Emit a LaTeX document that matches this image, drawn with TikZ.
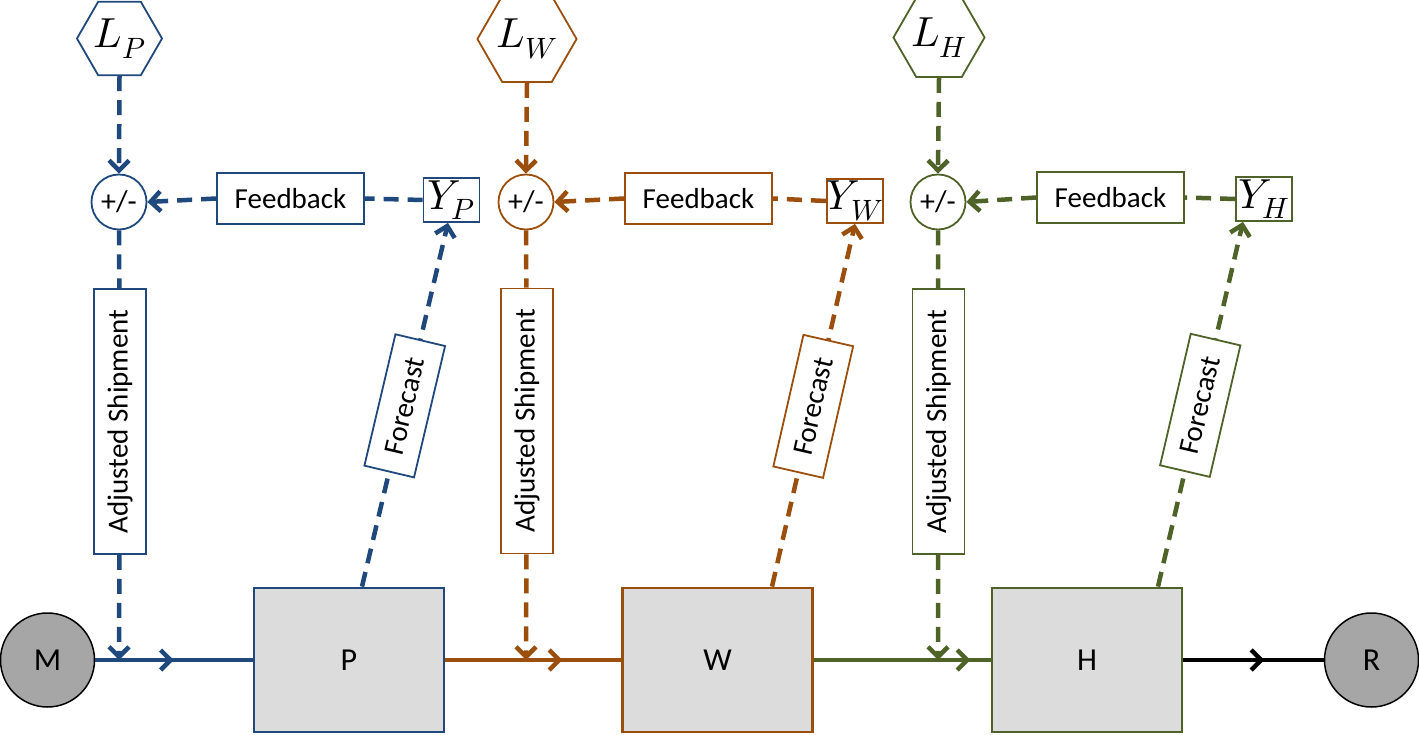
\documentclass[tikz,border=0pt]{standalone}
\usepackage{fontspec}
\usepackage{unicode-math}
\setmainfont{Carlito}
\usetikzlibrary{arrows.meta,shapes.geometric,decorations.markings}
\definecolor{cb}{HTML}{1F497D}
\definecolor{co}{HTML}{9C4F0C}
\definecolor{cg}{HTML}{4F6228}
\definecolor{boxgray}{HTML}{DCDCDC}
\definecolor{endgray}{HTML}{A6A6A6}
\tikzset{
  txt/.style={font=\fontsize{29}{30}\selectfont},
  bigtxt/.style={font=\fontsize{32}{33}\selectfont},
  mathtxt/.style={font=\fontsize{42}{42}\selectfont},
  hexnode/.style={regular polygon, regular polygon sides=6, minimum size=85pt, inner sep=0pt, draw, line width=1.8pt, fill=white, mathtxt},
  sumnode/.style={circle, minimum size=55pt, inner sep=0pt, draw, line width=1.8pt, fill=white, font=\fontsize{30}{30}\selectfont},
  lblbox/.style={rectangle, draw, solid, line width=1.8pt, fill=white, inner sep=2pt, txt},
  fbbox/.style={lblbox, minimum width=147pt, minimum height=51pt},
  asbox/.style={lblbox, rotate=90, minimum width=265pt, minimum height=52pt},
  fcbox/.style={lblbox, sloped, minimum width=135pt, minimum height=51pt},
  ybox/.style={rectangle, draw, line width=1.8pt, fill=white, inner sep=0pt, minimum width=56pt, minimum height=44pt, mathtxt},
  stage/.style={rectangle, draw, line width=2.8pt, fill=boxgray, minimum width=190pt, minimum height=144pt, bigtxt},
  endnode/.style={circle, draw=black, line width=1.5pt, fill=endgray, minimum size=94pt, inner sep=0pt, bigtxt},
  barb/.tip={Straight Barb[length=10pt,width=20pt,line width=4.5pt]},
  dashln/.style={line width=4.5pt, dash pattern=on 15pt off 9pt},
  dasharr/.style={dashln, -barb},
  mainline/.style={line width=3.5pt},
  midarr/.style={postaction={decorate}, decoration={markings, mark=at position #1 with {\arrow[line width=4.5pt]{barb}}}}
}
\begin{document}
\begin{tikzpicture}[x=1pt,y=-1pt]
\useasboundingbox (0,0) rectangle (1419,735);

% main chain
\node[endnode] (M) at (47.5,660) {M};
\node[stage, draw=cb] (P) at (349,660) {P};
\node[stage, draw=co] (W) at (717.5,660) {W};
\node[stage, draw=cg] (H) at (1087,660) {H};
\node[endnode] (R) at (1371.5,660) {R};

% hexagons
\node[hexnode, draw=cb] (LP) at (119.5,38.5) {$L_P$};
\node[hexnode, draw=co] (LW) at (527,39) {$L_W$};
\node[hexnode, draw=cg] (LH) at (939,37.5) {$L_H$};

% sum nodes
\node[sumnode, draw=cb] (CP) at (119,202) {+/-};
\node[sumnode, draw=co] (CW) at (526,202) {+/-};
\node[sumnode, draw=cg] (CH) at (938,202) {+/-};

% feedback boxes
\node[fbbox, draw=cb] (FP) at (290.5,198.5) {Feedback};
\node[fbbox, draw=co] (FW) at (698.5,198.5) {Feedback};
\node[fbbox, draw=cg] (FH) at (1110.5,197.5) {Feedback};

% Y boxes
\node[ybox, draw=cb] (YP) at (451.5,200) {$Y_P$};
\node[ybox, draw=co] (YW) at (855,201) {$Y_W$};
\node[ybox, draw=cg] (YH) at (1264,199) {$Y_H$};

% adjusted shipment boxes
\node[asbox, draw=cb] (AP) at (120,421.5) {Adjusted Shipment};
\node[asbox, draw=co] (AW) at (527,421) {Adjusted Shipment};
\node[asbox, draw=cg] (AH) at (938.5,421.5) {Adjusted Shipment};

% main flow lines
\draw[mainline, cb, midarr=78.5pt] (M.east) -- (P.west);
\draw[mainline, co, midarr=117pt] (P.east) -- (W.west);
\draw[mainline, cg, midarr=156.5pt] (W.east) -- (H.west);
\draw[mainline, black, midarr=81pt] (H.east) -- (R.west);

% L -> sum
\draw[dasharr, cb] (LP.south) -- (CP.north);
\draw[dasharr, co] (LW.south) -- (CW.north);
\draw[dasharr, cg] (LH.south) -- (CH.north);

% Y -> feedback -> sum
\draw[dashln, cb] (YP.west) -- (FP.east);
\draw[dasharr, cb] (FP.west) -- (CP.east);
\draw[dashln, co] (YW.west) -- (FW.east);
\draw[dasharr, co] (FW.west) -- (CW.east);
\draw[dashln, cg] (YH.west) -- (FH.east);
\draw[dasharr, cg] (FH.west) -- (CH.east);

% sum -> adjusted shipment -> main line
\draw[dashln, cb] (CP.south) -- (AP);
\draw[dasharr, cb] (AP) -- (CP.south |- M.east);
\draw[dashln, co] (CW.south) -- (AW);
\draw[dasharr, co] (AW) -- (CW.south |- M.east);
\draw[dashln, cg] (CH.south) -- (AH);
\draw[dasharr, cg] (AH) -- (CH.south |- M.east);

% forecasts
\draw[dasharr, cb] ([xshift=13pt]P.north) -- node[fcbox, draw=cb, text=black, pos=0.497] (FCP) {Forecast} ([xshift=-3.5pt]YP.south);
\draw[dasharr, co] ([xshift=54.5pt]W.north) -- node[fcbox, draw=co, text=black, pos=0.497] (FCW) {Forecast} ([xshift=0pt]YW.south);
\draw[dasharr, cg] ([xshift=71pt]H.north) -- node[fcbox, draw=cg, text=black, pos=0.497] (FCH) {Forecast} ([xshift=-21pt]YH.south);
\end{tikzpicture}
\end{document}
